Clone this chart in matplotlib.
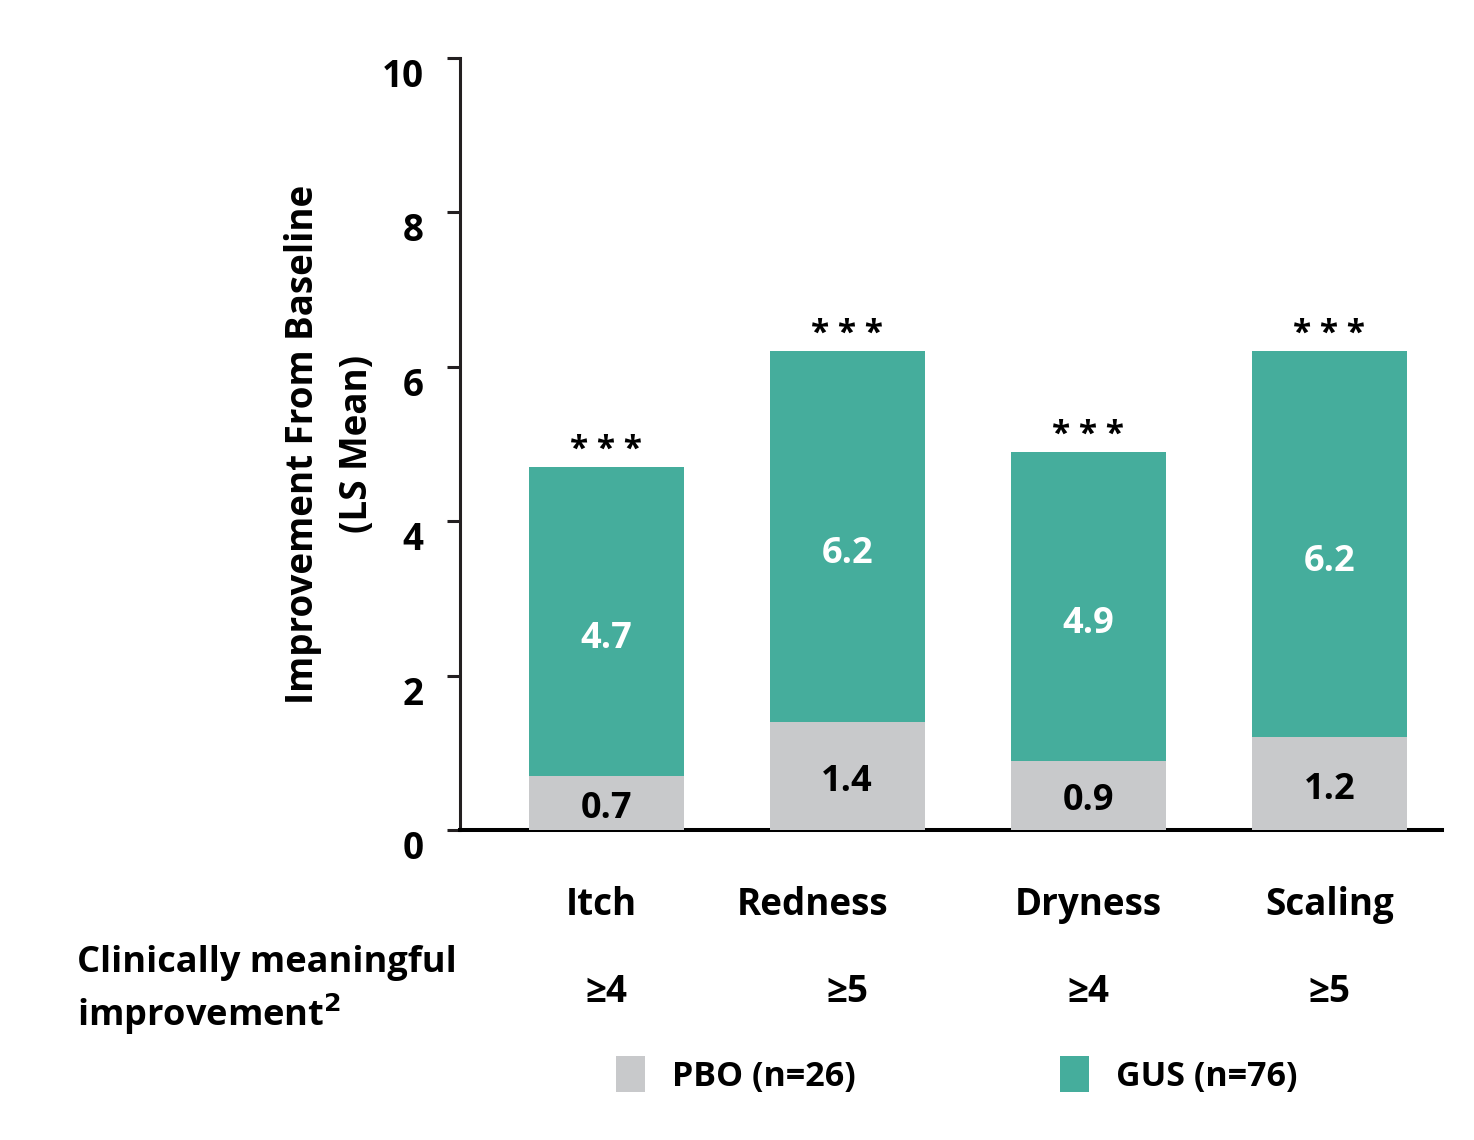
import matplotlib
matplotlib.use("Agg")
import matplotlib.pyplot as plt
import numpy as np

plt.rcParams['font.family'] = ['Open Sans', 'DejaVu Sans']
plt.rcParams['font.weight'] = 'bold'

# data
categories = ['Itch', 'Redness', 'Dryness', 'Scaling']
pbo = [0.7, 1.4, 0.9, 1.2]
gus = [4.7, 6.2, 4.9, 6.2]
thresholds = ['≥4', '≥5', '≥4', '≥5']
stars = ['* * *', '* * *', '* * *', '* * *']
series_names = ['PBO (n=26)', 'GUS (n=76)']

teal = '#45ad9c'
grey = '#c8c9cb'

fig = plt.figure(figsize=(14.74, 11.40), dpi=100)
ax = fig.add_axes([0.3121, 0.2719, 0.9783 - 0.3121, 0.9491 - 0.2719])

x = np.arange(len(categories))
w = 0.643
b_gus = ax.bar(x, gus, w, color=teal, zorder=2, label=series_names[1])
b_pbo = ax.bar(x, pbo, w, color=grey, zorder=3, label=series_names[0])

for i in range(len(categories)):
    ax.text(x[i], (pbo[i] + gus[i]) / 2 - 0.23, '%.1f' % gus[i], color='white',
            ha='center', va='center', fontsize=26, fontweight='bold', zorder=4)
    ax.text(x[i], pbo[i] / 2 - 0.08, '%.1f' % pbo[i], color='black',
            ha='center', va='center', fontsize=26, fontweight='bold', zorder=4)
    ax.text(x[i], gus[i] + 0.0, stars[i], ha='center', va='bottom',
            fontsize=24, fontweight='bold')

ax.set_xlim(-0.606, 3.467)
ax.set_ylim(0, 10)
ax.set_yticks(range(0, 11, 2))
ax.set_xticks([])
ax.tick_params(axis='y', length=9.4, width=2.2, color='#231f20', pad=17,
               labelsize=26.5)
for lab in ax.get_yticklabels():
    lab.set_fontweight('bold')
    lab.set_verticalalignment('top')
ax.spines['top'].set_visible(False)
ax.spines['right'].set_visible(False)
ax.spines['left'].set_linewidth(2.2)
ax.spines['left'].set_color('#231f20')
ax.spines['bottom'].set_linewidth(2.9)
ax.spines['bottom'].set_color('black')

ax.text(-1.145, 5.0, 'Improvement From Baseline\n(LS Mean)', rotation=90,
        ha='center', va='center', fontsize=26.5, fontweight='bold',
        linespacing=1.55, transform=ax.transData, clip_on=False)

# category labels and thresholds below the axis
label_shift = [-0.02, -0.145, 0.0, 0.0]
for i in range(len(categories)):
    ax.text(x[i] + label_shift[i], -0.97, categories[i], ha='center', va='center',
            fontsize=26.5, fontweight='bold', clip_on=False)
    ax.text(x[i], -2.1, thresholds[i], ha='center', va='center',
            fontsize=26.5, fontweight='bold', clip_on=False)

fig.text(77 / 1474, 1 - 991 / 1140, 'Clinically meaningful\nimprovement$^{\\mathbf{2}}$',
         ha='left', va='center', fontsize=26, fontweight='bold', linespacing=1.3)

fig.legend([b_pbo, b_gus], series_names, loc='center',
           bbox_to_anchor=(957 / 1474, 1 - 1075 / 1140), ncol=2, frameon=False,
           handlelength=0.85, handleheight=1.25, handletextpad=0.8,
           columnspacing=6.0, prop={'weight': 'bold', 'size': 24.5})

fig.savefig('out.png', dpi=100)
